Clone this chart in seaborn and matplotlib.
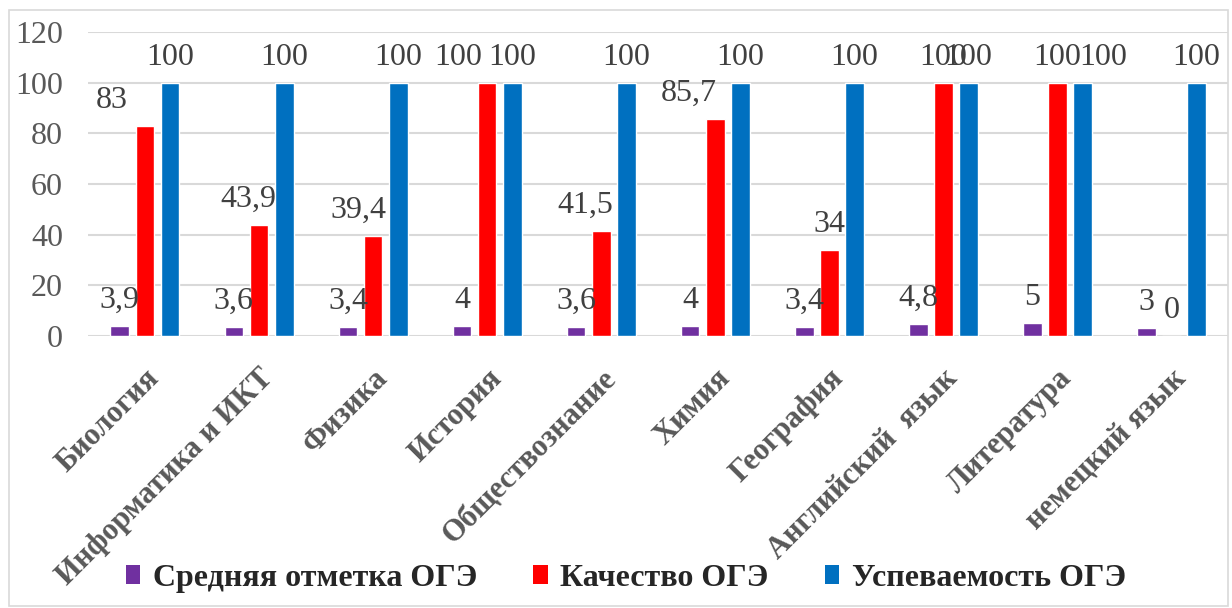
import pandas as pd
import matplotlib.pyplot as plt
import seaborn as sns
from matplotlib.patches import Rectangle, Patch

# Data
subjects = ['Биология', 'Информатика и ИКТ', 'Физика', 'История', 'Обществознание',
            'Химия', 'География', 'Английский  язык', 'Литература', 'немецкий язык']
avg_mark = [3.9, 3.6, 3.4, 4, 3.6, 4, 3.4, 4.8, 5, 3]
quality = [83, 43.9, 39.4, 100, 41.5, 85.7, 34, 100, 100, 0]
success = [100, 100, 100, 100, 100, 100, 100, 100, 100, 100]
series_names = ['Средняя отметка ОГЭ', 'Качество ОГЭ', 'Успеваемость ОГЭ']
colors = ['#7030A0', '#FF0000', '#0070C0']

# Label nudges (px, horizontal) - the labels in the original were moved by hand
label_nudge = {
    (1, 0): -33, (1, 1): -11, (1, 2): -15, (1, 3): -29, (1, 4): -16, (1, 5): -26,
    (2, 8): 21,
}

df = pd.DataFrame({
    'subject': subjects * 3,
    'series': [s for s in series_names for _ in subjects],
    'value': avg_mark + quality + success,
})

sns.set_style('white')
plt.rcParams['font.family'] = ['Liberation Serif', 'DejaVu Serif']

fig = plt.figure(figsize=(12.32, 6.08), dpi=100)
ax = fig.add_axes([0.0714, 0.4474, 0.9256, 0.4996])

sns.barplot(data=df, x='subject', y='value', hue='series', palette=colors,
            width=0.66, gap=0.25, ax=ax, legend=False, saturation=1)

ax.set_ylim(0, 120)
ax.set_yticks(range(0, 121, 20))
ax.yaxis.grid(True, color='#d9d9d9', linewidth=1.5)
ax.set_axisbelow(True)
for sp in ax.spines.values():
    sp.set_visible(False)
ax.set_xlabel('')
ax.set_ylabel('')
ax.tick_params(axis='y', length=0, labelsize=23, labelcolor='#595959', pad=18)
ax.tick_params(axis='x', length=0, pad=20)
ax.set_xticks(range(len(subjects)))
ax.set_xticklabels(subjects, rotation=45, ha='right', va='top', rotation_mode='anchor',
                   fontsize=22, fontweight='bold', color='#595959')
ax.set_xlim(-0.5, len(subjects) - 0.5)

# value labels
def fmt(v):
    if float(v).is_integer():
        return str(int(v))
    return str(v).replace('.', ',')

all_vals = [avg_mark, quality, success]
for si, cont in enumerate(ax.containers):
    for ci, bar in enumerate(cont):
        v = all_vals[si][ci]
        x = bar.get_x() + bar.get_width() / 2
        dx = label_nudge.get((si, ci), 0) * 0.72
        ax.annotate(fmt(v), (x, bar.get_height()), xytext=(dx, 13),
                    textcoords='offset points', ha='center', va='baseline',
                    fontsize=23, color='#404040', annotation_clip=False)

# legend
handles = [Patch(facecolor=c, edgecolor='none') for c in colors]
fig.legend(handles, series_names, loc='center', bbox_to_anchor=(0.508, 0.049), ncol=3,
           frameon=False, handlelength=0.45, handleheight=0.55, handletextpad=0.4,
           columnspacing=1.75, prop={'family': 'Liberation Serif', 'weight': 'bold', 'size': 23})

# chart border
fig.patches.append(Rectangle((0.007, 0.004), 0.99, 0.98, transform=fig.transFigure,
                             fill=False, edgecolor='#d9d9d9', linewidth=1.2))

fig.savefig('out.png', dpi=100)
